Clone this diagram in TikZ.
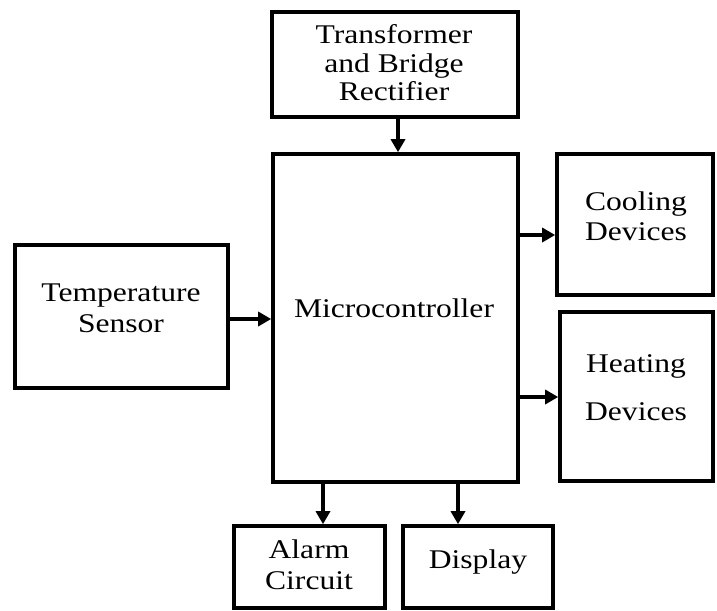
\documentclass[tikz,border=0pt]{standalone}
\usepackage{fontspec}
\setmainfont{Liberation Serif}[FakeStretch=1.17]
\usetikzlibrary{arrows.meta}
\begin{document}
\begin{tikzpicture}[x=1pt,y=-1pt,
  box/.style={draw=black, line width=3.6pt, rectangle, inner sep=0pt, fill=white},
  txt/.style={anchor=base, inner sep=0pt, font=\fontsize{27}{30}\selectfont},
  arr/.style={draw=black, line width=3.6pt, -{Triangle[length=13pt,width=14pt]}}]
\useasboundingbox (0,0) rectangle (717,610);
% boxes
\node[box, minimum width=246pt, minimum height=105pt] (trans) at (395,64.5) {};
\node[box, minimum width=245pt, minimum height=328pt] (micro) at (395.5,318) {};
\node[box, minimum width=156pt, minimum height=141pt] (cool) at (635,224.5) {};
\node[box, minimum width=153pt, minimum height=169pt] (heat) at (636.5,396.5) {};
\node[box, minimum width=213pt, minimum height=143pt] (temp) at (121.5,316.5) {};
\node[box, minimum width=151pt, minimum height=82pt] (alarm) at (309.5,567) {};
\node[box, minimum width=150pt, minimum height=82pt] (disp) at (478,567) {};
% texts
\node[txt] (t1) at (394,44) {Transformer};
\node[txt] (t2) at (394,73) {and Bridge};
\node[txt] (t3) at (394,100) {Rectifier};
\node[txt] (m1) at (394,317) {Microcontroller};
\node[txt] (c1) at (636,210) {Cooling};
\node[txt] (c2) at (636,240) {Devices};
\node[txt] (h1) at (636,372) {Heating};
\node[txt] (h2) at (636,420) {Devices};
\node[txt] (s1) at (121,301) {Temperature};
\node[txt] (s2) at (121,332) {Sensor};
\node[txt] (a1) at (309,558) {Alarm};
\node[txt] (a2) at (309,589) {Circuit};
\node[txt] (d1) at (478,568) {Display};
% connector positions
\coordinate (xT) at (398,0);
\coordinate (xA) at (323,0);
\coordinate (xD) at (458,0);
\coordinate (yS) at (0,319);
\coordinate (yC) at (0,235);
\coordinate (yH) at (0,397);
% connectors
\draw[arr] (trans.south -| xT) -- (micro.north -| xT);
\draw[arr] (temp.east |- yS) -- (micro.west |- yS);
\draw[arr] (micro.east |- yC) -- (cool.west |- yC);
\draw[arr] (micro.east |- yH) -- (heat.west |- yH);
\draw[arr] (micro.south -| xA) -- (alarm.north -| xA);
\draw[arr] (micro.south -| xD) -- (disp.north -| xD);
\end{tikzpicture}
\end{document}
